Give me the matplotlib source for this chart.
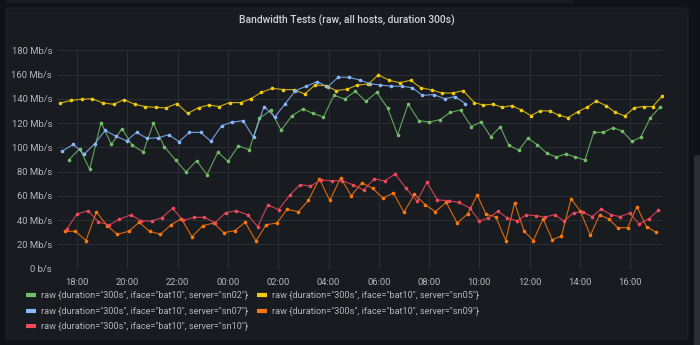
import matplotlib
matplotlib.use("Agg")
import matplotlib.pyplot as plt
import matplotlib.dates as mdates
from matplotlib.colors import to_rgba
from matplotlib.lines import Line2D
from matplotlib.patches import FancyBboxPatch, Rectangle
from matplotlib.ticker import FuncFormatter
from datetime import datetime, timedelta

plt.rcParams['font.family'] = ['Roboto', 'DejaVu Sans']

title = 'Bandwidth Tests (raw, all hosts, duration 300s)'
# time window: 17:12 on day one to 17:19 on the next day
view_start, view_end = '17:12', '17:19'

# sn02
sn02_times = ['17:40', '18:06', '18:30', '18:57', '19:22', '19:47', '20:11', '20:38', '21:02', '21:28',
              '21:55', '22:20', '22:45', '23:10', '23:36', '00:00', '00:25', '00:51', '01:15', '01:42',
              '02:07', '02:32', '02:58', '03:23', '03:48', '04:13', '04:39', '05:04', '05:29', '05:55',
              '06:21', '06:45', '07:10', '07:36', '08:01', '08:26', '08:51', '09:15', '09:41', '10:04',
              '10:27', '10:50', '11:10', '11:34', '11:56', '12:18', '12:41', '13:04', '13:26', '13:49',
              '14:12', '14:33', '14:56', '15:19', '15:41', '16:04', '16:25', '16:48', '17:11']
sn02_vals = [89.6, 98.9, 81.9, 120.5, 102.5, 115.5, 102.0, 96.2, 119.9, 100.6,
             89.6, 79.7, 89.0, 77.5, 96.0, 88.5, 101.2, 98.1, 124.0, 130.6,
             114.1, 125.9, 131.7, 128.1, 125.1, 143.0, 140.0, 146.3, 138.0, 145.5,
             132.5, 110.5, 135.8, 122.0, 120.9, 122.9, 128.9, 130.9, 117.2, 121.0,
             108.9, 116.9, 102.0, 97.6, 107.5, 102.3, 95.1, 92.1, 94.6, 92.1,
             89.6, 112.4, 112.4, 116.3, 113.5, 105.0, 108.3, 124.5, 133.1]

# sn05
sn05_times = ['17:19', '17:46', '18:11', '18:36', '19:01', '19:27', '19:52', '20:17', '20:42', '21:08',
              '21:32', '21:58', '22:24', '22:50', '23:14', '23:39', '00:04', '00:30', '00:55', '01:20',
              '01:46', '02:12', '02:37', '03:03', '03:28', '03:54', '04:18', '04:44', '05:09', '05:35',
              '05:59', '06:25', '06:50', '07:16', '07:40', '08:06', '08:31', '08:57', '09:21', '09:48',
              '10:09', '10:32', '10:55', '11:17', '11:40', '12:03', '12:24', '12:48', '13:10', '13:32',
              '13:55', '14:17', '14:39', '15:02', '15:24', '15:47', '16:10', '16:32', '16:54', '17:16']
sn05_vals = [136.4, 138.9, 139.7, 140.2, 136.7, 135.6, 139.4, 135.6, 133.7, 133.1,
             132.6, 136.2, 128.1, 132.8, 135.0, 133.7, 137.0, 137.0, 140.2, 145.5,
             148.8, 147.7, 147.7, 144.1, 151.5, 150.9, 146.9, 148.0, 151.5, 152.3,
             159.8, 155.4, 153.4, 155.4, 149.3, 147.4, 144.9, 144.9, 146.9, 137.0,
             135.0, 135.6, 133.1, 134.5, 130.9, 126.2, 130.1, 130.1, 126.5, 124.6,
             129.5, 133.1, 138.3, 134.5, 129.0, 126.0, 132.8, 133.7, 133.7, 142.4]

# sn07
sn07_times = ['17:25', '17:51', '18:17', '18:42', '19:07', '19:33', '19:58', '20:22', '20:47', '21:14',
              '21:39', '22:03', '22:28', '22:55', '23:19', '23:45', '00:10', '00:36', '01:01', '01:26',
              '01:52', '02:17', '02:41', '03:07', '03:33', '03:58', '04:23', '04:48', '05:14', '05:39',
              '06:04', '06:30', '06:55', '07:20', '07:44', '08:11', '08:37', '09:02', '09:26']
sn07_vals = [97.0, 102.5, 94.5, 103.0, 114.0, 109.1, 105.5, 112.4, 107.4, 108.0,
             110.5, 104.7, 112.4, 112.4, 105.0, 117.9, 120.9, 122.0, 108.3, 133.7,
             125.2, 136.2, 146.9, 150.5, 154.3, 149.9, 157.9, 157.9, 155.7, 152.6,
             151.5, 150.5, 150.5, 149.3, 143.0, 143.6, 140.2, 141.9, 136.2]

# sn09
sn09_times = ['17:30', '17:56', '18:21', '18:46', '19:12', '19:36', '20:03', '20:28', '20:53', '21:19',
              '21:44', '22:09', '22:34', '23:00', '23:26', '23:50', '00:16', '00:41', '01:07', '01:31',
              '01:57', '02:21', '02:48', '03:12', '03:38', '04:03', '04:29', '04:54', '05:20', '05:45',
              '06:10', '06:35', '07:00', '07:25', '07:51', '08:15', '08:41', '09:07', '09:32', '09:55',
              '10:16', '10:39', '11:03', '11:24', '11:47', '12:09', '12:32', '12:54', '13:16', '13:39',
              '14:01', '14:25', '14:47', '15:09', '15:30', '15:54', '16:16', '16:39', '17:01']
sn09_vals = [30.7, 30.7, 23.1, 46.6, 35.3, 28.2, 30.7, 38.1, 30.7, 28.2,
             36.1, 41.1, 26.2, 35.3, 37.6, 29.6, 31.2, 38.1, 22.7, 36.1,
             37.6, 48.8, 46.9, 56.2, 74.1, 56.2, 74.9, 60.1, 70.8, 66.2,
             58.2, 62.3, 46.4, 61.2, 52.7, 46.9, 54.6, 37.6, 45.0, 60.7,
             44.7, 42.8, 23.1, 54.4, 30.7, 23.1, 41.1, 23.8, 26.8, 57.7,
             47.2, 27.4, 44.2, 40.9, 33.7, 33.7, 51.0, 34.5, 30.1]

# sn10
sn10_times = ['17:35', '18:00', '18:26', '18:51', '19:16', '19:41', '20:08', '20:33', '20:58', '21:22',
              '21:48', '22:13', '22:39', '23:04', '23:29', '23:55', '00:20', '00:47', '01:11', '01:35',
              '02:01', '02:28', '02:52', '03:17', '03:42', '04:08', '04:33', '04:58', '05:24', '05:49',
              '06:14', '06:39', '07:05', '07:31', '07:55', '08:20', '08:47', '09:11', '09:37', '10:00',
              '10:21', '10:44', '11:07', '11:30', '11:52', '12:15', '12:36', '13:00', '13:22', '13:45',
              '14:07', '14:29', '14:51', '15:14', '15:36', '15:59', '16:21', '16:44', '17:07']
sn10_vals = [32.6, 45.0, 47.7, 38.6, 35.9, 40.6, 44.4, 39.2, 39.2, 41.9,
             49.6, 39.7, 42.2, 42.2, 37.8, 46.1, 47.7, 44.4, 34.5, 52.4,
             48.6, 60.7, 69.2, 68.1, 73.0, 72.5, 72.5, 69.2, 64.8, 74.1,
             72.2, 78.0, 66.2, 55.7, 71.1, 56.6, 56.0, 54.6, 50.0, 39.2,
             41.7, 47.2, 41.7, 39.2, 44.4, 43.6, 42.5, 44.4, 39.2, 46.1,
             46.6, 42.8, 49.1, 44.4, 42.8, 45.8, 36.7, 40.9, 48.0]

servers = ['sn02', 'sn05', 'sn07', 'sn09', 'sn10']
colors = ['#73BF69', '#F2CC0C', '#8AB8FF', '#FF780A', '#F2495C']


def to_dt(times):
    # times are in order, roll over to the next day when the clock goes back
    out = []
    day = 0
    prev = None
    for t in times:
        h, m = map(int, t.split(':'))
        cur = datetime(2021, 3, 1, h, m) + timedelta(days=day)
        if prev is not None and cur < prev:
            day += 1
            cur += timedelta(days=1)
        out.append(cur)
        prev = cur
    return out


series = {
    'sn02': (sn02_times, sn02_vals),
    'sn05': (sn05_times, sn05_vals),
    'sn07': (sn07_times, sn07_vals),
    'sn09': (sn09_times, sn09_vals),
    'sn10': (sn10_times, sn10_vals),
}

W, H = 700, 345
fig = plt.figure(figsize=(W / 100, H / 100), dpi=100, facecolor='#111217')

# panels (behind the axes)
fig.patches.append(Rectangle((6 / W, 1 - 3 / H), 568 / W, 3 / H, transform=fig.transFigure,
                             fc='#181b1f', ec='none', zorder=-10))
fig.patches.append(FancyBboxPatch((6 / W, 6 / H), 682 / W, 331 / H,
                                  boxstyle='round,pad=0,rounding_size=0.004',
                                  transform=fig.transFigure, fc='#181b1f', ec='#1f2126', lw=0.8,
                                  zorder=-10))
# scrollbar
fig.patches.append(FancyBboxPatch((694 / W, -0.02), 8 / W, (345 - 155) / H + 0.02,
                                  boxstyle='round,pad=0,rounding_size=0.006',
                                  transform=fig.transFigure, fc='#2b2d31', ec='none', zorder=-10))

fig.text(347 / W, 1 - 20 / H, title, ha='center', va='center', color='#d0d0dc',
         fontsize=7.4, fontweight='medium')

ax = fig.add_axes([57 / W, 76.5 / H, 606.3 / W, 218 / H])
ax.set_facecolor('none')

for name, c in zip(servers, colors):
    ts, vs = series[name]
    ax.plot(to_dt(ts), vs, color=to_rgba(c, 0.8), lw=0.85, marker='o', markersize=2.6,
            markerfacecolor=c, markeredgewidth=0, zorder=3)

start = to_dt([view_start])[0]
end = to_dt([view_end])[0] + timedelta(days=1)
ax.set_xlim(start, end)
ax.set_ylim(0, 180)
ax.set_yticks(range(0, 181, 20))
ax.yaxis.set_major_formatter(FuncFormatter(lambda v, p: '0 b/s' if v == 0 else f'{v:.0f} Mb/s'))
ax.xaxis.set_major_locator(mdates.HourLocator(byhour=range(0, 24, 2)))
ax.xaxis.set_major_formatter(mdates.DateFormatter('%H:%M'))

ax.grid(True, color='#2a2d33', lw=0.8)
ax.set_axisbelow(True)
for s in ax.spines.values():
    s.set_visible(False)
ax.tick_params(length=0, labelsize=6.8, colors='#b4b5bc')
ax.tick_params(axis='y', pad=3.6)
ax.tick_params(axis='x', pad=6.5)


def label(name):
    return 'raw {duration="300s", iface="bat10", server="%s"}' % name


def swatch(c):
    return Line2D([], [], color=c, lw=3, solid_capstyle='butt')


col1 = ['sn02', 'sn07', 'sn10']
col2 = ['sn05', 'sn09']
for names, x0 in ((col1, 26), (col2, 257)):
    fig.legend([swatch(colors[servers.index(n)]) for n in names], [label(n) for n in names],
               loc='upper left', bbox_to_anchor=(x0 / W, 1 - 291 / H), frameon=False,
               fontsize=6.55, labelcolor='#b4b5bc', handlelength=1.1, handletextpad=0.6,
               labelspacing=0.65, borderpad=0, borderaxespad=0)

fig.savefig('out.png', dpi=100, facecolor=fig.get_facecolor())
